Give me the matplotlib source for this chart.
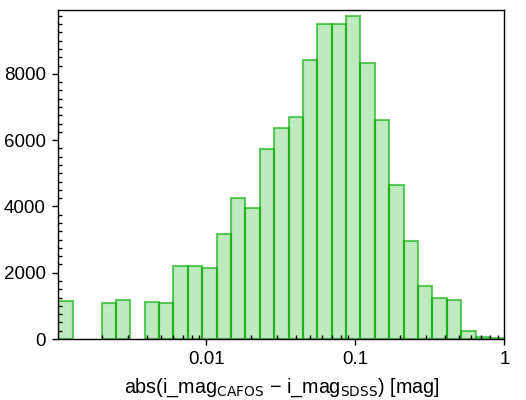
import numpy as np
import matplotlib.pyplot as plt
from matplotlib.ticker import MultipleLocator, FixedLocator, NullFormatter

plt.rcParams['font.family'] = ['Liberation Sans', 'DejaVu Sans']
plt.rcParams['mathtext.default'] = 'regular'

# histogram: 31 log-spaced bins from ~0.00102 to 1 mag
x_lo = 0.00102
x_hi = 1.0
n_bins = 31
counts = [1145, 0, 0, 1095, 1185, 0, 1125, 1095, 2210, 2210,
          2150, 3180, 4265, 3965, 5745, 6380, 6710, 8430, 9520, 9520,
          9760, 8320, 6620, 4660, 2970, 1610, 1245, 1185, 240, 70, 40]

edges = np.logspace(np.log10(x_lo), np.log10(x_hi), n_bins + 1)
counts = np.array(counts)
filled = counts > 0   # empty bins draw nothing

fig = plt.figure(figsize=(5.26, 4.0), dpi=100)
ax = fig.add_axes([0.111, 0.1525, 0.8478, 0.8218])

green = (0, 0.667, 0)
ax.bar(edges[:-1][filled], counts[filled], width=np.diff(edges)[filled],
       align='edge', facecolor=green + (0.25,), edgecolor=green + (0.6,),
       linewidth=1.5)

ax.set_xscale('log')
ax.set_xlim(x_lo, x_hi)
ax.set_ylim(0, 9920)

ax.set_xticks([0.01, 0.1, 1])
ax.set_xticklabels(['0.01', '0.1', '1'])
minors = [m * 10.0**e for e in (-3, -2, -1) for m in range(2, 10)]
ax.xaxis.set_minor_locator(FixedLocator(minors))
ax.xaxis.set_minor_formatter(NullFormatter())

ax.yaxis.set_major_locator(MultipleLocator(2000))
ax.yaxis.set_minor_locator(MultipleLocator(250))

ax.tick_params(which='major', direction='out', length=4, width=1,
               labelsize=13.5, pad=5)
ax.tick_params(which='minor', direction='in', length=3, width=1)
ax.tick_params(top=False, right=False, which='both')
for s in ax.spines.values():
    s.set_linewidth(1)
    s.set_zorder(3)

ax.set_xlabel(r'abs(i_mag$_{\rm CAFOS}$ $-$ i_mag$_{\rm SDSS}$) [mag]',
              fontsize=14.2, labelpad=6)

fig.savefig('out.png', dpi=100)
